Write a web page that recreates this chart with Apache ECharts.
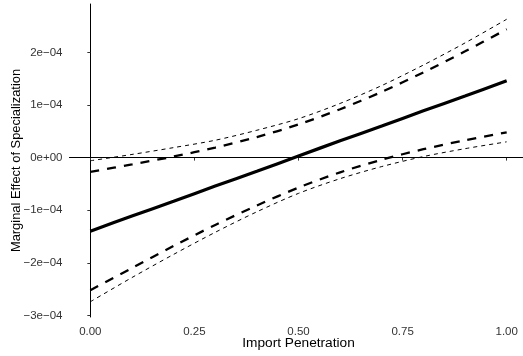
<!DOCTYPE html>
<html>
<head>
<meta charset="utf-8">
<script src="https://cdn.jsdelivr.net/npm/echarts@6/dist/echarts.min.js"></script>
<style>
  html, body { margin: 0; padding: 0; background: #fff; }
  #chart { width: 523px; height: 356px; }
</style>
</head>
<body>
<div id="chart"></div>
<script>
// Import penetration grid
const importPenetration = [0, 0.1, 0.2, 0.3, 0.4, 0.5, 0.6, 0.7, 0.8, 0.9, 1.0];

// Marginal effect of specialization (units of 1e-4)
const marginalEffect = [-1.40, -1.11, -0.83, -0.54, -0.26, 0.03, 0.32, 0.60, 0.89, 1.17, 1.46];
// Inner confidence band (90%)
const innerUpper = [-0.27, -0.13, 0.02, 0.19, 0.39, 0.63, 0.92, 1.25, 1.62, 2.02, 2.44];
const innerLower = [-2.52, -2.10, -1.68, -1.28, -0.91, -0.57, -0.28, -0.04, 0.16, 0.33, 0.48];
// Outer confidence band (95%)
const outerUpper = [-0.06, 0.06, 0.19, 0.33, 0.52, 0.74, 1.03, 1.37, 1.76, 2.18, 2.63];
const outerLower = [-2.74, -2.28, -1.84, -1.42, -1.03, -0.68, -0.40, -0.17, 0.02, 0.17, 0.30];

// Axis ticks
const xTickValues = [0, 0.25, 0.5, 0.75, 1.0];
const xTickLabels = ['0.00', '0.25', '0.50', '0.75', '1.00'];
const yTickValues = [-3e-4, -2e-4, -1e-4, 0, 1e-4, 2e-4];
const yTickLabels = ['\u22123e\u221204', '\u22122e\u221204', '\u22121e\u221204', '0e+00', '1e\u221204', '2e\u221204'];

const SCALE = 1e-4;
const toPairs = ys => importPenetration.map((x, i) => [x, ys[i] * SCALE]);

function labelFor(values, labels) {
  return v => {
    let best = 0;
    values.forEach((t, i) => { if (Math.abs(t - v) < Math.abs(values[best] - v)) best = i; });
    return labels[best];
  };
}

const FONT = '"Liberation Sans", Arial, sans-serif';
const chart = echarts.init(document.getElementById('chart'), null, { renderer: 'canvas' });

function lineSeries(name, ys, width, dash) {
  return {
    name: name,
    type: 'line',
    data: toPairs(ys),
    showSymbol: false,
    smooth: 0.3,
    silent: true,
    lineStyle: { color: '#000', width: width, type: dash },
    z: 3
  };
}

const series = [
  lineSeries('outerUpper', outerUpper, 1, [4, 4]),
  lineSeries('outerLower', outerLower, 1, [4, 4]),
  lineSeries('innerUpper', innerUpper, 2.3, [9, 8]),
  lineSeries('innerLower', innerLower, 2.3, [9, 8]),
  lineSeries('marginalEffect', marginalEffect, 3.2, 'solid')
];
series[4].markLine = {
  silent: true,
  symbol: ['none', 'none'],
  label: { show: false },
  lineStyle: { color: '#000', width: 1, type: 'solid' },
  data: [{ yAxis: 0 }]
};

chart.setOption({
  animation: false,
  backgroundColor: '#fff',
  grid: { left: 69.5, right: -4.5, top: 4, bottom: 39, outerBoundsMode: 'none', containLabel: false },
  xAxis: {
    type: 'value',
    min: -0.05,
    max: 1.05,
    name: 'Import Penetration',
    nameLocation: 'middle',
    nameGap: 19,
    nameMoveOverlap: false,
    nameTextStyle: { color: '#000', fontSize: 13.7, fontFamily: FONT },
    splitLine: { show: false },
    axisLine: { show: true, lineStyle: { color: '#000', width: 1 } },
    axisTick: { show: true, length: 3, lineStyle: { color: '#333' }, customValues: xTickValues },
    axisLabel: {
      customValues: xTickValues,
      formatter: labelFor(xTickValues, xTickLabels),
      color: '#333', fontSize: 11.5, fontFamily: FONT, margin: 9
    }
  },
  yAxis: {
    type: 'value',
    min: -3.03e-4,
    max: 2.92e-4,
    name: 'Marginal Effect of Specialization',
    nameLocation: 'middle',
    nameGap: 47,
    nameMoveOverlap: false,
    nameTextStyle: { color: '#000', fontSize: 12.9, fontFamily: FONT },
    splitLine: { show: false },
    axisLine: { show: true, lineStyle: { color: '#000', width: 1 } },
    axisTick: { show: true, length: 3, lineStyle: { color: '#333' }, customValues: yTickValues },
    axisLabel: {
      customValues: yTickValues,
      formatter: labelFor(yTickValues, yTickLabels),
      color: '#333', fontSize: 11.5, fontFamily: FONT, margin: 7
    }
  },
  series: series
});
</script>
</body>
</html>
